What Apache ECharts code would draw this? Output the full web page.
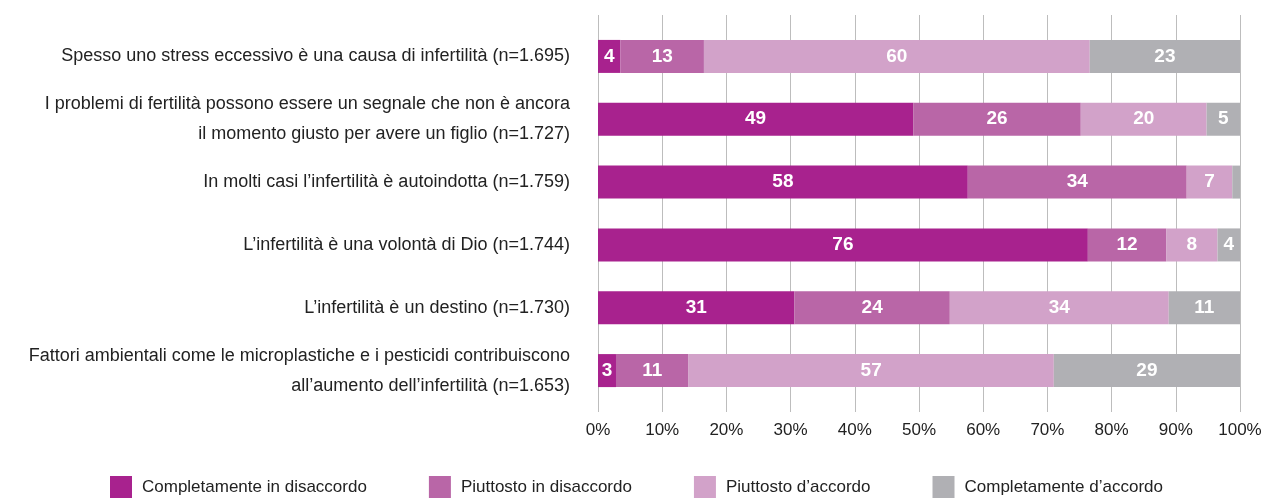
<!DOCTYPE html>
<html>
<head>
<meta charset="utf-8">
<script src="https://cdn.jsdelivr.net/npm/echarts@6/dist/echarts.min.js"></script>
<style>
  html, body { margin: 0; padding: 0; background: #fff; }
  #chart { width: 1261px; height: 499px; }
</style>
</head>
<body>
<div id="chart"></div>
<script>
const categories = [
  'Spesso uno stress eccessivo è una causa di infertilità (n=1.695)',
  'I problemi di fertilità possono essere un segnale che non è ancora\nil momento giusto per avere un figlio (n=1.727)',
  'In molti casi l’infertilità è autoindotta (n=1.759)',
  'L’infertilità è una volontà di Dio (n=1.744)',
  'L’infertilità è un destino (n=1.730)',
  'Fattori ambientali come le microplastiche e i pesticidi contribuiscono\nall’aumento dell’infertilità (n=1.653)'
]
const seriesNames = ['Completamente in disaccordo', 'Piuttosto in disaccordo', 'Piuttosto d’accordo', 'Completamente d’accordo']
const completeDis = [3.5, 49.1, 57.6, 76.3, 30.6, 2.8]
const piuttostoDis = [13.0, 26.1, 34.1, 12.2, 24.2, 11.3]
const piuttostoAcc = [60.1, 19.6, 7.1, 8.0, 34.1, 56.9]
const completeAcc = [23.4, 5.2, 1.2, 3.5, 11.1, 29.0]
const colors = ['#a8228e', '#b966a7', '#d2a2c9', '#b0b0b4']

const font = '"Liberation Sans", Arial, sans-serif'
const gridColor = '#bdbdbd'

const chart = echarts.init(document.getElementById('chart'))

const mkSeries = (name, data, i) => ({
  name,
  type: 'bar',
  stack: 'total',
  data,
  barWidth: 33,
  itemStyle: { color: colors[i] },
  label: {
    show: true,
    color: '#fff',
    fontFamily: font,
    fontWeight: 'bold',
    fontSize: 19,
    formatter: p => (p.value < 2 ? '' : Math.round(p.value))
  }
})

const option = {
  animation: false,
  textStyle: { fontFamily: font },
  grid: { left: 598, right: 21, top: 25, bottom: 97, outerBoundsMode: 'none', containLabel: false },
  legend: {
    top: 476,
    left: 110,
    padding: 0,
    itemWidth: 22,
    itemHeight: 22,
    itemGap: 62,
    icon: 'rect',
    textStyle: { fontFamily: font, fontSize: 17, color: '#222', padding: [0, 0, 0, 5] },
    data: seriesNames
  },
  xAxis: [
    {
      type: 'value',
      position: 'bottom',
      min: 0,
      max: 100,
      interval: 10,
      axisLine: { show: false },
      axisTick: { show: true, length: 10, lineStyle: { color: gridColor } },
      splitLine: { show: true, lineStyle: { color: gridColor } },
      axisLabel: { formatter: '{value}%', fontFamily: font, fontSize: 17, color: '#222', margin: 20 }
    },
    {
      type: 'value',
      position: 'top',
      min: 0,
      max: 100,
      interval: 10,
      axisLine: { show: false },
      axisTick: { show: true, length: 10, lineStyle: { color: gridColor } },
      splitLine: { show: false },
      axisLabel: { show: false }
    }
  ],
  yAxis: {
    type: 'category',
    inverse: true,
    data: categories,
    axisLine: { show: false },
    axisTick: { show: false },
    axisLabel: { fontFamily: font, fontSize: 18, color: '#222', margin: 28, lineHeight: 30, align: 'right' }
  },
  series: [
    mkSeries(seriesNames[0], completeDis, 0),
    mkSeries(seriesNames[1], piuttostoDis, 1),
    mkSeries(seriesNames[2], piuttostoAcc, 2),
    mkSeries(seriesNames[3], completeAcc, 3)
  ]
}
chart.setOption(option)
</script>
</body>
</html>
